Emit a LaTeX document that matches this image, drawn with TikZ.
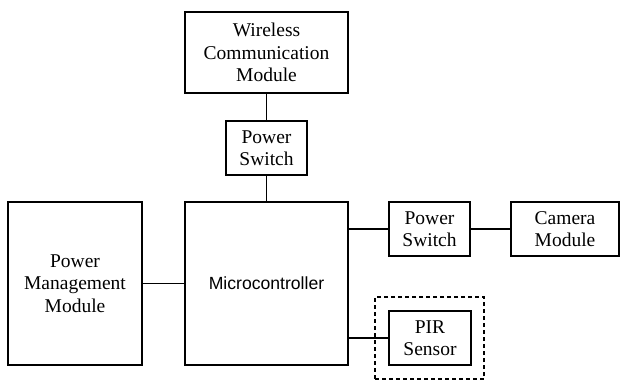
\documentclass[tikz,border=0pt]{standalone}
\usepackage{fontspec}
\setmainfont{Liberation Serif}
\newfontfamily\arialf{Liberation Sans}
\begin{document}
\begin{tikzpicture}[x=1pt,y=-1pt,
  blk/.style={draw,line width=1.1pt,inner sep=0pt,align=center,font=\fontsize{19.5}{22.5}\selectfont},
  conn/.style={line width=1.1pt}]
\useasboundingbox (0,0) rectangle (620,381);
\node[blk,minimum width=163,minimum height=81] (wcm) at (266.5,52.5) {Wireless\\Communication\\Module};
\node[blk,minimum width=81,minimum height=54] (ps1) at (266.5,148) {Power\\Switch};
\node[blk,minimum width=163,minimum height=163,font=\arialf\fontsize{17.6}{20}\selectfont] (mcu) at (266.5,283.5) {Microcontroller};
\node[blk,minimum width=134,minimum height=163] (pmm) at (75,283.5) {Power\\Management\\Module};
\node[blk,minimum width=81,minimum height=54] (ps2) at (429.5,229) {Power\\Switch};
\node[blk,minimum width=108,minimum height=54] (cam) at (565,229) {Camera\\Module};
\node[blk,minimum width=82,minimum height=54] (pir) at (430,338) {PIR\\Sensor};
\node[draw,dash pattern=on 4pt off 3pt,line width=1.1pt,minimum width=109,minimum height=82,inner sep=0pt] (dash) at (429.5,338) {};
\draw[conn] (wcm) -- (ps1);
\draw[conn] (ps1) -- (mcu);
\draw[conn] (pmm) -- (mcu);
\draw[conn] (ps2) -- (cam);
\draw[conn] (ps2.west) -- (ps2.west -| mcu.east);
\draw[conn] (pir.west) -- (pir.west -| mcu.east);
\end{tikzpicture}
\end{document}
